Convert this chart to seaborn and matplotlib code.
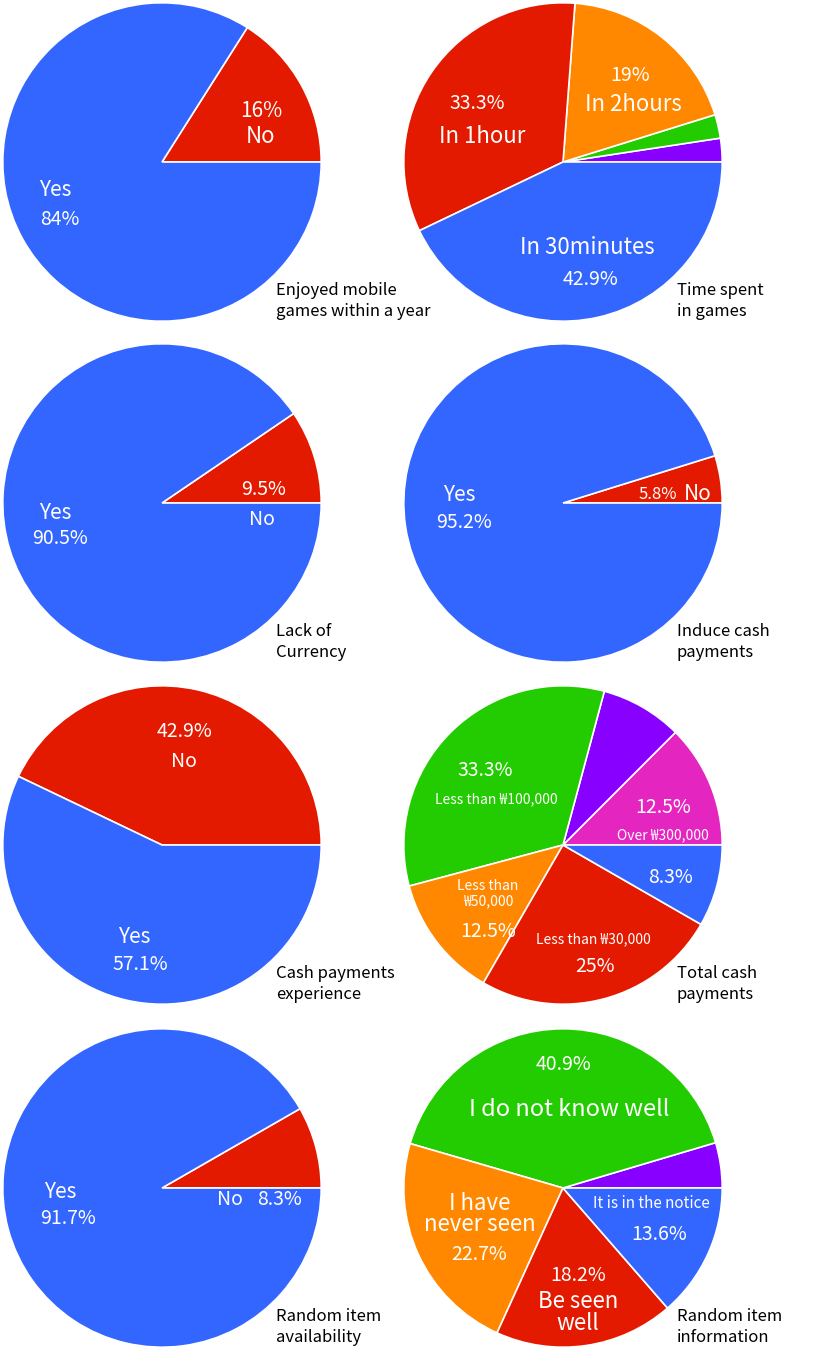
import seaborn as sns
import matplotlib.pyplot as plt

# Données des 8 diagrammes (ordre anti-horaire depuis 3 heures)
BLUE, RED, ORANGE, GREEN, PURPLE, PINK = "#3366FF", "#E31A00", "#FF8800", "#22CC00", "#8800FF", "#E525C0"

enjoyed_values = [16, 84]
enjoyed_colors = [RED, BLUE]

time_values = [2.4, 2.4, 19, 33.3, 42.9]
time_colors = [PURPLE, GREEN, ORANGE, RED, BLUE]

currency_values = [9.5, 90.5]
currency_colors = [RED, BLUE]

induce_values = [4.8, 95.2]
induce_colors = [RED, BLUE]

experience_values = [42.9, 57.1]
experience_colors = [RED, BLUE]

total_values = [12.5, 8.3, 33.3, 12.5, 25, 8.3]
total_colors = [PINK, PURPLE, GREEN, ORANGE, RED, BLUE]

availability_values = [8.3, 91.7]
availability_colors = [RED, BLUE]

information_values = [4.6, 40.9, 22.7, 18.2, 13.6]
information_colors = [PURPLE, GREEN, ORANGE, RED, BLUE]

titles = [
    "Enjoyed mobile\ngames within a year", "Time spent\nin games",
    "Lack of\nCurrency", "Induce cash\npayments",
    "Cash payments\nexperience", "Total cash\npayments",
    "Random item\navailability", "Random item\ninformation",
]

# étiquettes : (texte, x, y, taille, interligne) en unités du rayon
enjoyed_labels = [("16%", 0.625, 0.32, 15, 1), ("No", 0.62, 0.16, 16, 1),
                  ("Yes", -0.67, -0.175, 15, 1), ("84%", -0.64, -0.36, 14, 1)]
time_labels = [("33.3%", -0.54, 0.365, 14, 1), ("In 1hour", -0.51, 0.16, 16, 1),
               ("19%", 0.42, 0.545, 14, 1), ("In 2hours", 0.44, 0.36, 16, 1),
               ("In 30minutes", 0.15, -0.54, 16, 1), ("42.9%", 0.17, -0.74, 14, 1)]
currency_labels = [("9.5%", 0.64, 0.085, 14, 1), ("No", 0.625, -0.105, 14, 1),
                   ("Yes", -0.67, -0.06, 15, 1), ("90.5%", -0.64, -0.225, 14, 1)]
induce_labels = [("Yes", -0.65, 0.05, 15, 1), ("95.2%", -0.62, -0.12, 14, 1),
                 ("5.8%", 0.597, 0.055, 12, 1), ("No", 0.845, 0.055, 15, 1)]
experience_labels = [("42.9%", 0.144, 0.715, 14, 1), ("No", 0.1375, 0.525, 14, 1),
                     ("Yes", -0.175, -0.575, 15, 1), ("57.1%", -0.1375, -0.75, 14, 1)]
total_labels = [("33.3%", -0.49, 0.465, 14, 1), ("Less than ₩100,000", -0.42, 0.29, 10, 1),
                ("12.5%", 0.63, 0.235, 14, 1), ("Over ₩300,000", 0.63, 0.06, 10, 1),
                ("8.3%", 0.675, -0.205, 14, 1), ("Less than\n₩50,000", -0.47, -0.305, 10, 1.15),
                ("12.5%", -0.47, -0.545, 14, 1), ("Less than ₩30,000", 0.19, -0.59, 10, 1),
                ("25%", 0.2, -0.765, 14, 1)]
availability_labels = [("Yes", -0.64, -0.025, 15, 1), ("91.7%", -0.59, -0.19, 14, 1),
                       ("No", 0.425, -0.07, 14, 1), ("8.3%", 0.74, -0.07, 14, 1)]
information_labels = [("40.9%", 0.0, 0.775, 14, 1), ("I do not know well", 0.0375, 0.495, 17, 1),
                      ("I have\nnever seen", -0.525, -0.165, 16, 0.9),
                      ("22.7%", -0.525, -0.415, 14, 1), ("18.2%", 0.094, -0.55, 14, 1),
                      ("Be seen\nwell", 0.094, -0.78, 16, 0.95),
                      ("It is in the notice", 0.556, -0.1, 11, 1), ("13.6%", 0.606, -0.29, 14, 1)]

charts = [
    (enjoyed_values, enjoyed_colors, enjoyed_labels),
    (time_values, time_colors, time_labels),
    (currency_values, currency_colors, currency_labels),
    (induce_values, induce_colors, induce_labels),
    (experience_values, experience_colors, experience_labels),
    (total_values, total_colors, total_labels),
    (availability_values, availability_colors, availability_labels),
    (information_values, information_colors, information_labels),
]

sns.set_theme(style="white")
plt.rcParams["font.family"] = ["Noto Sans CJK KR", "DejaVu Sans"]

W, H = 823, 1349
fig = plt.figure(figsize=(W / 100, H / 100), dpi=100)
fig.patch.set_facecolor("white")

centers_x = [162, 563]
centers_y = [162, 503, 845, 1188]
R = 160

for i, (values, colors, labels) in enumerate(charts):
    cx = centers_x[i % 2]
    cy = centers_y[i // 2]
    ax = fig.add_axes([(cx - R) / W, 1 - (cy + R) / H, 2 * R / W, 2 * R / H])
    ax.pie(values, colors=colors, startangle=0, counterclock=True,
           wedgeprops=dict(edgecolor="white", linewidth=1.2))
    ax.set_xlim(-1.005, 1.005)
    ax.set_ylim(-1.005, 1.005)
    ax.set_aspect("equal")
    ax.axis("off")
    for txt, x, y, size, ls in labels:
        ax.text(x, y, txt, color="white", fontsize=size, ha="center", va="center",
                linespacing=ls)
    # titre en bas à droite
    tx = 276 if i % 2 == 0 else 677
    fig.text(tx / W, 1 - (cy + 139) / H, titles[i], fontsize=12, color="black",
             ha="left", va="center", linespacing=1.35)

plt.savefig("out.png", dpi=100)
plt.close()
